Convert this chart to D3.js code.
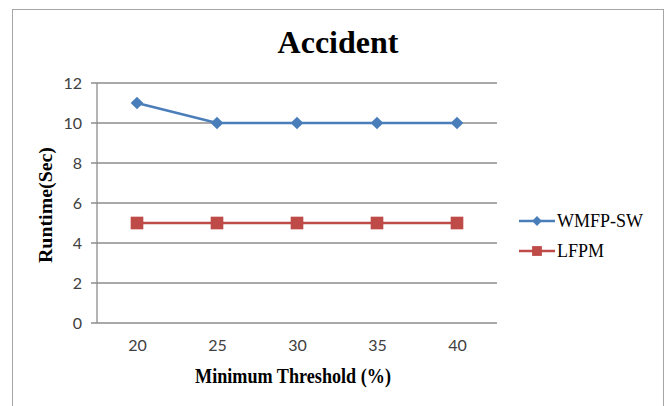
<!DOCTYPE html>
<html>
<head>
<meta charset="utf-8">
<script src="https://cdn.jsdelivr.net/npm/d3@7"></script>
<style>
  body { margin: 0; background: #fff; }
  .tick text { font-family: Lato, "Open Sans", sans-serif; font-size: 16px; fill: #404040; }
  .bold-serif { font-family: "Liberation Serif", "Times New Roman", serif; font-weight: bold; }
</style>
</head>
<body>
<svg id="chart"></svg>
<script>
const thresholds = [20, 25, 30, 35, 40];
const wmfpSw = [11, 10, 10, 10, 10];
const lfpm = [5, 5, 5, 5, 5];
const yTicks = [0, 2, 4, 6, 8, 10, 12];

const seriesList = [
  { name: 'WMFP-SW', values: wmfpSw, color: '#4a7ebb', rotate: 45, size: 80 },
  { name: 'LFPM', values: lfpm, color: '#be4b48', rotate: 0, size: 160 }
];

const width = 667, height = 406;
const margin = { top: 83, left: 97, right: 170, bottom: 83 };
const innerW = width - margin.left - margin.right;
const innerH = height - margin.top - margin.bottom;

const svg = d3.select('#chart').attr('width', width).attr('height', height);

// outer chart border
svg.append('rect')
    .attr('x', 12.5).attr('y', 9.5)
    .attr('width', 651).attr('height', 410)
    .attr('fill', 'none')
    .attr('stroke', '#a6a6a6');

svg.append('text')
    .attr('class', 'bold-serif')
    .attr('x', 338).attr('y', 53)
    .attr('text-anchor', 'middle')
    .style('font-size', '32px')
    .text('Accident');

const chart = svg.append('g')
    .attr('transform', `translate(${margin.left},${margin.top})`);

const xScale = d3.scalePoint()
    .domain(thresholds)
    .range([0, innerW])
    .padding(0.5);

const yScale = d3.scaleLinear()
    .domain([0, 12])
    .range([innerH, 0]);

// gridlines
chart.append('g')
  .selectAll('line')
  .data(yTicks)
  .join('line')
    .attr('x1', -6).attr('x2', innerW)
    .attr('y1', d => yScale(d)).attr('y2', d => yScale(d))
    .attr('stroke', '#8c8c8c')
    .attr('stroke-width', 1.3);

const yAxis = d3.axisLeft(yScale).tickValues(yTicks).tickSize(0).tickPadding(15);
chart.append('g').call(yAxis).call(g => g.select('.domain').remove());

chart.append('line')
    .attr('x1', 0).attr('x2', 0)
    .attr('y1', 0).attr('y2', innerH)
    .attr('stroke', '#8c8c8c')
    .attr('stroke-width', 1.3);

const xAxis = d3.axisBottom(xScale).tickSize(0).tickPadding(17);
chart.append('g')
    .attr('transform', `translate(0,${innerH})`)
    .call(xAxis)
    .call(g => g.select('.domain').remove());

// series
const line = d3.line()
    .x((d, i) => xScale(thresholds[i]))
    .y(d => yScale(d));

seriesList.forEach(s => {
  chart.append('path')
      .datum(s.values)
      .attr('d', line)
      .attr('fill', 'none')
      .attr('stroke', s.color)
      .attr('stroke-width', 2.5);
  chart.append('g')
    .selectAll('path')
    .data(s.values)
    .join('path')
      .attr('transform', (d, i) => `translate(${xScale(thresholds[i])},${yScale(d)}) rotate(${s.rotate})`)
      .attr('d', d3.symbol().type(d3.symbolSquare).size(s.size))
      .attr('fill', s.color);
});

// axis titles
svg.append('text')
    .attr('class', 'bold-serif')
    .attr('x', 293).attr('y', 383)
    .attr('text-anchor', 'middle')
    .attr('textLength', 196)
    .attr('lengthAdjust', 'spacingAndGlyphs')
    .style('font-size', '20px')
    .text('Minimum Threshold (%)');

svg.append('text')
    .attr('class', 'bold-serif')
    .attr('transform', 'translate(52,205) rotate(-90)')
    .attr('text-anchor', 'middle')
    .attr('textLength', 116)
    .attr('lengthAdjust', 'spacingAndGlyphs')
    .style('font-size', '18px')
    .text('Runtime(Sec)');

// legend
const legend = svg.append('g').attr('transform', 'translate(519,221)');
seriesList.forEach((s, i) => {
  const g = legend.append('g').attr('transform', `translate(0,${i * 30})`);
  g.append('line')
      .attr('x1', 0).attr('x2', 36)
      .attr('stroke', s.color)
      .attr('stroke-width', 2.5);
  g.append('path')
      .attr('transform', `translate(18,0) rotate(${s.rotate})`)
      .attr('d', d3.symbol().type(d3.symbolSquare).size(s.size * 0.6))
      .attr('fill', s.color);
  g.append('text')
      .attr('x', 38).attr('y', 6)
      .style('font-family', '"Liberation Serif", "Times New Roman", serif')
      .style('font-size', '18px')
      .attr('fill', '#000')
      .text(s.name);
});
</script>
</body>
</html>
